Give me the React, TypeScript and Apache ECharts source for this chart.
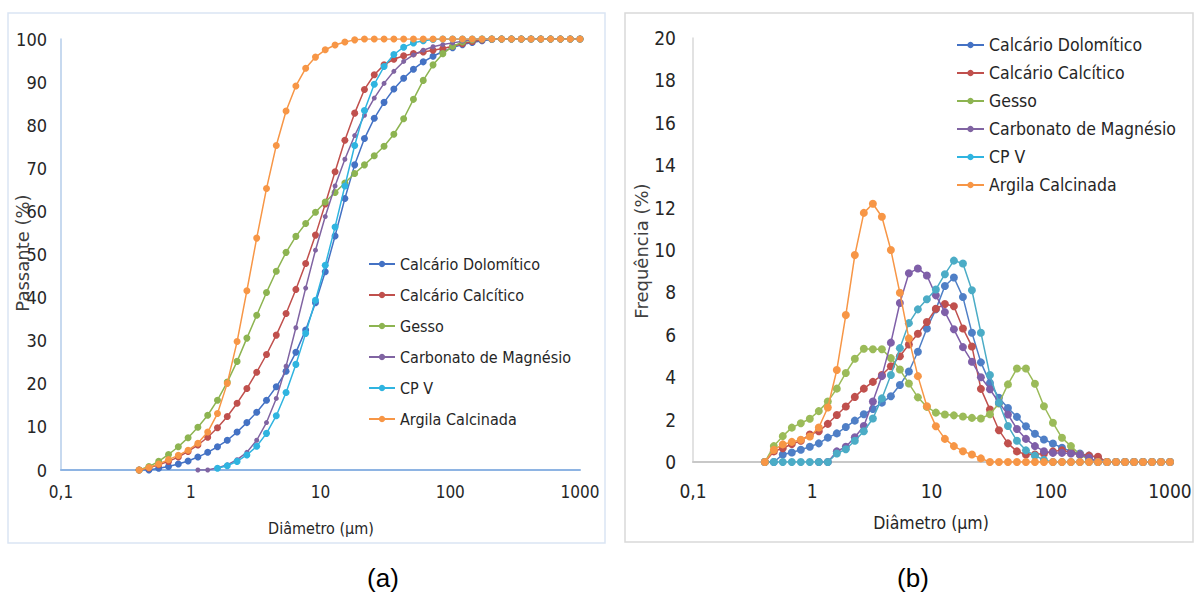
import { useEffect, useRef } from "react";
import * as echarts from "echarts";

// Particle diameter classes (µm)
const diametro = [
  0.4, 0.476, 0.566, 0.674, 0.802, 0.954, 1.135, 1.351, 1.607, 1.912, 2.276, 2.708, 3.223, 3.835, 4.563,
  5.429, 6.46, 7.686, 9.147, 10.88, 12.95, 15.41, 18.34, 21.82, 25.96, 30.89, 36.76, 43.74, 52.04, 61.93,
  73.69, 87.68, 104.3, 124.2, 147.7, 175.8, 209.2, 248.9, 296.2, 352.4, 419.3, 498.9, 593.7, 706.5, 840.6, 1000,
];

const seriesNames = [
  "Calcário Dolomítico",
  "Calcário Calcítico",
  "Gesso",
  "Carbonato de Magnésio",
  "CP V",
  "Argila Calcinada",
];

// (a) Passante acumulado (%)
const passDolomitico = [
  0, 0, 0.4, 0.8, 1.4, 2.1, 3.0, 4.1, 5.4, 6.9, 8.8, 11.0, 13.4, 16.2, 19.3, 22.9, 27.3, 32.5, 38.8, 46.0,
  54.3, 63.0, 70.8, 76.9, 81.6, 85.3, 88.4, 90.9, 93.0, 94.7, 96.0, 97.1, 98.0, 98.7, 99.2, 99.6, 99.9, 100,
  100, 100, 100, 100, 100, 100, 100, 100,
];
const passCalcitico = [
  0, 0.5, 1.2, 2.0, 3.0, 4.3, 5.8, 7.6, 9.8, 12.4, 15.5, 18.9, 22.7, 26.8, 31.3, 36.3, 41.9, 47.9, 54.5, 61.7,
  69.2, 76.5, 82.8, 88.3, 91.7, 94.0, 95.3, 96.1, 96.6, 97.0, 97.4, 97.8, 98.3, 98.9, 99.4, 99.8, 100, 100,
  100, 100, 100, 100, 100, 100, 100, 100,
];
const passGesso = [
  0, 0.8, 2.0, 3.6, 5.4, 7.5, 9.9, 12.7, 16.2, 20.4, 25.2, 30.6, 35.9, 41.2, 46.1, 50.5, 54.2, 57.2, 59.8, 62.2,
  64.4, 66.6, 68.8, 70.8, 72.9, 75.1, 77.9, 81.5, 86.0, 90.4, 94.0, 96.6, 98.3, 99.3, 99.8, 100, 100, 100,
  100, 100, 100, 100, 100, 100, 100, 100,
];
const passCarbonato = [
  null, null, null, null, null, null, 0, 0, 0.5, 1.2, 2.4, 4.1, 6.9, 11.0, 16.6, 24.1, 33.0, 42.2, 51.0, 58.8,
  65.9, 72.1, 77.6, 82.3, 86.3, 89.7, 92.5, 94.8, 96.3, 97.4, 98.2, 98.7, 99.1, 99.5, 99.9, 100, 100, 100,
  100, 100, 100, 100, 100, 100, 100, 100,
];
const passCPV = [
  null, null, null, null, null, null, null, null, 0.4, 1.0, 2.0, 3.5, 5.5, 8.5, 12.6, 18.0, 24.5, 31.7, 39.4, 47.5,
  56.4, 65.9, 75.3, 83.4, 89.5, 93.6, 96.4, 98.1, 99.1, 99.6, 99.9, 100, 100, 100, 100, 100, 100, 100,
  100, 100, 100, 100, 100, 100, 100, 100,
];
const passArgila = [
  0, 0.6, 1.4, 2.4, 3.4, 4.6, 6.2, 8.8, 13.1, 20.1, 29.8, 41.6, 53.8, 65.3, 75.3, 83.3, 89.1, 93.2, 95.8, 97.5,
  98.6, 99.3, 99.8, 100, 100, 100, 100, 100, 100, 100, 100, 100, 100, 100, 100, 100, 100, 100,
  100, 100, 100, 100, 100, 100, 100, 100,
];

// (b) Frequência (%)
const freqDolomitico = [
  0, 0, 0.35, 0.45, 0.58, 0.72, 0.88, 1.15, 1.35, 1.65, 1.95, 2.25, 2.5, 2.8, 3.1, 3.63, 4.27, 5.2, 6.3, 7.2,
  8.3, 8.7, 7.78, 6.1, 4.7, 3.73, 3.03, 2.55, 2.13, 1.69, 1.33, 1.06, 0.87, 0.67, 0.5, 0.4, 0.3, 0.2,
  0, 0, 0, 0, 0, 0, 0, 0,
];
const freqCalcitico = [
  0, 0.5, 0.65, 0.85, 1.0, 1.3, 1.45, 1.8, 2.22, 2.62, 3.07, 3.46, 3.78, 4.1, 4.52, 4.99, 5.54, 6.05, 6.6, 7.23,
  7.45, 7.35, 6.3, 5.45, 3.45, 2.48, 1.5, 0.88, 0.5, 0.35, 0.35, 0.4, 0.5, 0.55, 0.45, 0.35, 0.3, 0.25,
  0, 0, 0, 0, 0, 0, 0, 0,
];
const freqGesso = [
  0, 0.75, 1.22, 1.62, 1.83, 2.04, 2.4, 2.85, 3.46, 4.2, 4.87, 5.34, 5.32, 5.32, 4.9, 4.36, 3.7, 3.05, 2.6, 2.33,
  2.24, 2.2, 2.15, 2.08, 2.05, 2.25, 2.76, 3.66, 4.41, 4.41, 3.69, 2.63, 1.85, 1.14, 0.75, 0.35, 0.1,
  0, 0, 0, 0, 0, 0, 0, 0, 0,
];
const freqCarbonato = [
  null, null, null, null, null, null, 0, 0, 0.5, 0.72, 1.17, 1.7, 2.85, 4.05, 5.63, 7.5, 8.9, 9.13, 8.8, 7.86,
  7.07, 6.26, 5.42, 4.73, 4.0, 3.43, 2.8, 2.24, 1.56, 1.09, 0.75, 0.51, 0.43, 0.43, 0.4, 0.35, 0.2,
  0, 0, 0, 0, 0, 0, 0, 0, 0,
];
const freqCPV = [
  0, 0, 0, 0, 0, 0, 0, 0, 0.4, 0.6, 1.0, 1.45, 2.05, 3.0, 4.1, 5.37, 6.55, 7.2, 7.68, 8.14,
  8.86, 9.5, 9.36, 8.1, 6.1, 4.1, 2.8, 1.7, 1.0, 0.55, 0.3, 0.1, 0,
  0, 0, 0, 0, 0, 0, 0, 0, 0, 0, 0, 0, 0,
];
const freqArgila = [
  0, 0.57, 0.83, 0.95, 1.05, 1.2, 1.63, 2.57, 4.34, 6.93, 9.76, 11.75, 12.18, 11.57, 10.0, 7.98, 5.83, 4.05, 2.63, 1.69,
  1.09, 0.75, 0.51, 0.35, 0.17, 0,
  0, 0, 0, 0, 0, 0, 0, 0, 0, 0, 0, 0, 0, 0, 0, 0, 0, 0, 0, 0,
];

const passSets = [passDolomitico, passCalcitico, passGesso, passCarbonato, passCPV, passArgila];
const freqSets = [freqDolomitico, freqCalcitico, freqGesso, freqCarbonato, freqCPV, freqArgila];

const colorsA = ["#4472C4", "#C0504D", "#8DB451", "#8064A2", "#2FB4E0", "#F79646"];
const colorsB = ["#4F7FC6", "#C0504D", "#9BBB59", "#7F5FA8", "#4BACC6", "#F79646"];

const FONT = "'DejaVu Sans Condensed', 'Liberation Sans Narrow', 'Liberation Sans', sans-serif";
const TITLE_FONT = "'DejaVu Sans', Verdana, sans-serif";

const toPairs = (vals: (number | null)[]) =>
  diametro
    .map((d, i) => (vals[i] == null ? null : [d, vals[i] as number]))
    .filter((p) => p !== null) as number[][];

const logLabel = (v: number) => (v < 0.5 ? "0,1" : String(Math.round(v)));

export default function App() {
  const ref = useRef<HTMLDivElement>(null);

  useEffect(() => {
    if (!ref.current) return;
    const chart = echarts.init(ref.current, undefined, { renderer: "svg" });

    const seriesA = seriesNames.map((name, k) => ({
      name,
      type: "line",
      xAxisIndex: 0,
      yAxisIndex: 0,
      data: toPairs(passSets[k]),
      symbol: "circle",
      symbolSize: k === 3 ? 5 : 7,
      lineStyle: { width: 1.5, color: colorsA[k] },
      itemStyle: { color: colorsA[k] },
      emphasis: { disabled: true },
      z: 2 + k,
    }));
    const seriesB = seriesNames.map((name, k) => ({
      name,
      type: "line",
      xAxisIndex: 1,
      yAxisIndex: 1,
      data: toPairs(freqSets[k]),
      symbol: "circle",
      symbolSize: 8,
      lineStyle: { width: 1.5, color: colorsB[k] },
      itemStyle: { color: colorsB[k] },
      emphasis: { disabled: true },
      z: 2 + k,
    }));

    chart.setOption({
      animation: false,
      backgroundColor: "#ffffff",
      textStyle: { fontFamily: FONT },
      grid: [
        { left: 61, right: 617, top: 39, bottom: 127 },
        { left: 693, right: 27, top: 38, bottom: 135 },
      ],
      xAxis: [
        {
          gridIndex: 0,
          type: "log",
          logBase: 10,
          min: 0.1,
          max: 1000,
          axisLine: { show: true, lineStyle: { color: "#8EB4E3", width: 2 } },
          axisTick: { show: false },
          splitLine: { show: false },
          axisLabel: { formatter: logLabel, fontSize: 17, color: "#262626", margin: 13, fontFamily: FONT },
        },
        {
          gridIndex: 1,
          type: "log",
          logBase: 10,
          min: 0.1,
          max: 1000,
          axisLine: { show: true, lineStyle: { color: "#C8C8C8", width: 2 } },
          axisTick: { show: false },
          splitLine: { show: false },
          axisLabel: { formatter: logLabel, fontSize: 19, color: "#262626", margin: 19, fontFamily: FONT },
        },
      ],
      yAxis: [
        {
          gridIndex: 0,
          type: "value",
          min: 0,
          max: 100,
          interval: 10,
          axisLine: { show: true, lineStyle: { color: "#B4CCEA", width: 1.5 } },
          axisTick: { show: false },
          splitLine: { show: false },
          axisLabel: { fontSize: 18, color: "#262626", margin: 14, fontFamily: FONT },
        },
        {
          gridIndex: 1,
          type: "value",
          min: 0,
          max: 20,
          interval: 2,
          axisLine: { show: true, lineStyle: { color: "#D9D9D9", width: 1.5 } },
          axisTick: { show: false },
          splitLine: { show: false },
          axisLabel: { fontSize: 19, color: "#262626", margin: 17, fontFamily: FONT },
        },
      ],
      legend: [
        {
          left: 368,
          top: 256,
          orient: "vertical",
          padding: 0,
          itemWidth: 26,
          itemHeight: 8,
          itemGap: 15,
          selectedMode: false,
          textStyle: { fontSize: 16, color: "#262626", fontFamily: FONT },
          data: seriesNames,
        },
        {
          left: 956,
          top: 36,
          orient: "vertical",
          padding: 0,
          itemWidth: 27,
          itemHeight: 8,
          itemGap: 10,
          selectedMode: false,
          textStyle: { fontSize: 17.5, color: "#262626", fontFamily: FONT },
          data: seriesNames,
        },
      ],
      graphic: [
        {
          type: "rect",
          shape: { x: 8, y: 13, width: 597, height: 530 },
          style: { fill: "none", stroke: "#DAE5F4", lineWidth: 1.5 },
          silent: true,
          z: -1,
        },
        {
          type: "rect",
          shape: { x: 625, y: 13, width: 568, height: 529 },
          style: { fill: "none", stroke: "#D9D9D9", lineWidth: 1.5 },
          silent: true,
          z: -1,
        },
        {
          type: "text",
          x: 22,
          y: 253,
          rotation: Math.PI / 2,
          style: {
            text: "Passante (%)",
            font: `18px ${TITLE_FONT}`,
            fill: "#404040",
            align: "center",
            verticalAlign: "middle",
          },
        },
        {
          type: "text",
          x: 641,
          y: 251,
          rotation: Math.PI / 2,
          style: {
            text: "Frequência (%)",
            font: `18px ${TITLE_FONT}`,
            fill: "#404040",
            align: "center",
            verticalAlign: "middle",
          },
        },
        {
          type: "text",
          x: 321,
          y: 528,
          style: {
            text: "Diâmetro (µm)",
            font: `16px ${FONT}`,
            fill: "#262626",
            align: "center",
            verticalAlign: "middle",
          },
        },
        {
          type: "text",
          x: 931,
          y: 523,
          style: {
            text: "Diâmetro (µm)",
            font: `17.5px ${FONT}`,
            fill: "#262626",
            align: "center",
            verticalAlign: "middle",
          },
        },
        {
          type: "text",
          x: 383,
          y: 578,
          style: {
            text: "(a)",
            font: "26px 'Liberation Sans', Arial, sans-serif",
            fill: "#000000",
            align: "center",
            verticalAlign: "middle",
          },
        },
        {
          type: "text",
          x: 913,
          y: 578,
          style: {
            text: "(b)",
            font: "26px 'Liberation Sans', Arial, sans-serif",
            fill: "#000000",
            align: "center",
            verticalAlign: "middle",
          },
        },
      ],
      series: [...seriesA, ...seriesB],
    });

    return () => {
      chart.dispose();
    };
  }, []);

  return (
    <div
      ref={ref}
      style={{ position: "absolute", left: 0, top: 0, width: 1197, height: 597, background: "#ffffff" }}
    />
  );
}
